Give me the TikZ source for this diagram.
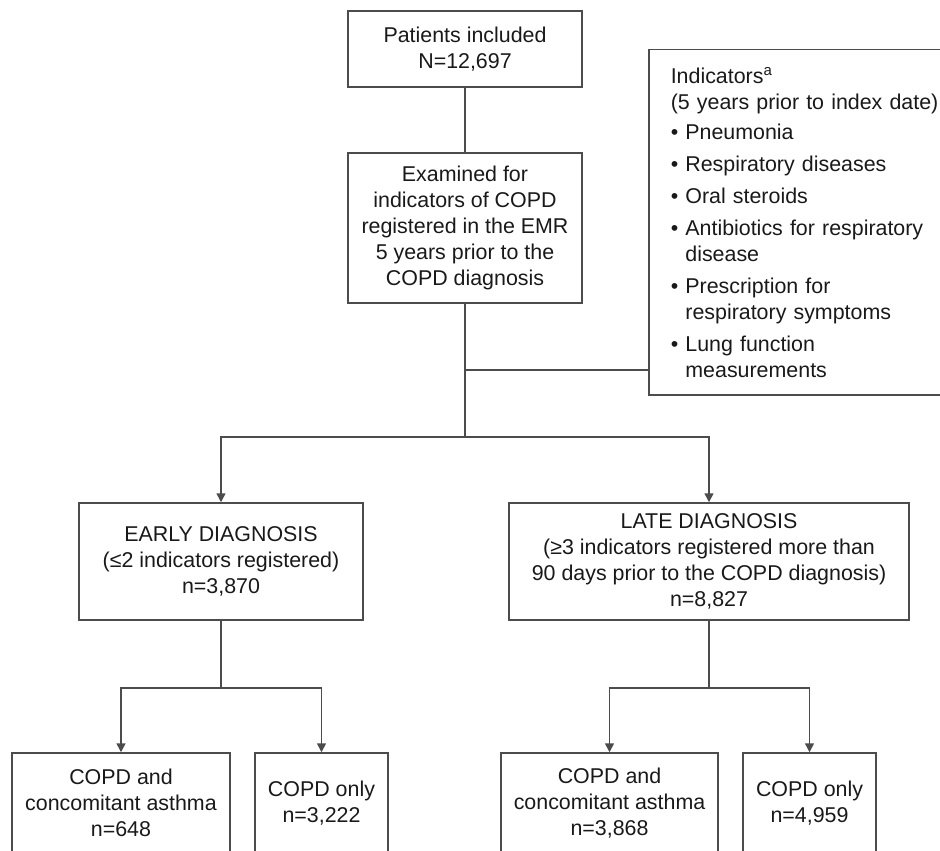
\documentclass[tikz,border=0pt]{standalone}
\usepackage{fontspec}
\setmainfont{Liberation Sans}
\usetikzlibrary{arrows.meta}

\begin{document}
\begin{tikzpicture}[x=0.5pt,y=-0.5pt,
    box/.style={draw=black!70,line width=0.75pt,align=center,inner sep=0pt,
        font=\fontsize{10.7}{13}\selectfont,text=black!90},
    link/.style={draw=black!70,line width=0.75pt},
    arr/.style={link,-{Triangle[width=4.5pt,length=4.5pt]}}]

    % page frame
    \useasboundingbox (0,0) rectangle (940,850);
    \clip (0,0) rectangle (940,850);

    % top boxes
    \node[box,minimum width=117pt,minimum height=38pt] (pat) at (465,49) {Patients included\\N=12,697};
    \node[box,minimum width=117pt,minimum height=75pt] (exam) at (465,228) {Examined for\\indicators of COPD\\registered in the EMR\\5 years prior to the\\COPD diagnosis};

    % indicator list
    \node[box,anchor=north west,align=left,text width=140pt,inner xsep=11pt,minimum height=172.5pt] (ind) at (648,49) {%
        Indicators\textsuperscript{a}\\
        (5 years prior to index date)\\[2pt]
        \textbullet\ Pneumonia\\[3pt]
        \textbullet\ Respiratory diseases\\[3pt]
        \textbullet\ Oral steroids\\[3pt]
        \textbullet\ Antibiotics for respiratory\\
        \hphantom{\textbullet\ }disease\\[3pt]
        \textbullet\ Prescription for\\
        \hphantom{\textbullet\ }respiratory symptoms\\[3pt]
        \textbullet\ Lung function\\
        \hphantom{\textbullet\ }measurements};

    % diagnosis groups
    \node[box,minimum width=142pt,minimum height=58.5pt] (early) at (221,561.5) {EARLY DIAGNOSIS\\(≤2 indicators registered)\\n=3,870};
    \node[box,minimum width=200pt,minimum height=58.5pt] (late) at (709,561.5) {LATE DIAGNOSIS\\(≥3 indicators registered more than\\90 days prior to the COPD diagnosis)\\n=8,827};

    % bottom row (cut by the page edge)
    \node[box,minimum width=109pt,minimum height=50pt] (ea) at (121,803) {COPD and\\concomitant asthma\\n=648};
    \node[box,minimum width=66.5pt,minimum height=50pt] (eo) at (321.5,803) {COPD only\\n=3,222};
    \node[box,minimum width=108.5pt,minimum height=50pt] (la) at (609.5,803) {COPD and\\concomitant asthma\\n=3,868};
    \node[box,minimum width=66.5pt,minimum height=50pt] (lo) at (809.5,803) {COPD only\\n=4,959};

    % connectors
    \coordinate (join) at (465,370);
    \coordinate (split) at (465,437);
    \draw[link] (pat) -- (exam);
    \draw[link] (exam) -- (split);
    \draw[link] (ind.west |- join) -- (join);
    \draw[arr] (split) -| (early);
    \draw[arr] (split) -| (late);

    \foreach \src/\one/\two in {early/ea/eo,late/la/lo} {
        \coordinate (\src-split) at ([yshift=-33.5pt]\src.south);
        \draw[link] (\src) -- (\src-split);
        \draw[arr] (\src-split) -| (\one);
        \draw[arr] (\src-split) -| (\two);
    }

\end{tikzpicture}
\end{document}
